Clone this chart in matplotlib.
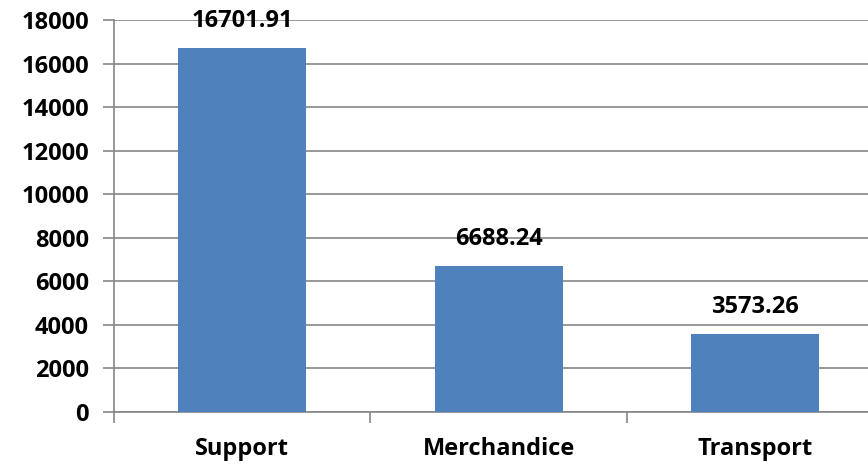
import numpy as np
import matplotlib.pyplot as plt

categories = ['Support', 'Merchandice', 'Transport']
values = [16701.91, 6688.24, 3573.26]
yticks = list(range(0, 18001, 2000))

plt.rcParams['font.family'] = ['Open Sans', 'DejaVu Sans']

fig = plt.figure(figsize=(8.68, 4.66), dpi=100)
ax = fig.add_axes([114 / 868, 54 / 466, 754 / 868, 392 / 466])

x = np.arange(len(categories))
bars = ax.bar(x, values, width=0.5, color='#4F81BD', zorder=3)

for xi, v in zip(x, values):
    ax.annotate(f'{v:.2f}', (xi, v), xytext=(0, 11), textcoords='offset points',
                ha='center', va='bottom', fontsize=17, fontweight='bold',
                color='black')

ax.set_ylim(0, 18000)
ax.set_yticks(yticks)
ax.set_yticklabels([str(t) for t in yticks], fontsize=17, fontweight='bold')
ax.yaxis.grid(True, color='#868686', linewidth=1.2, zorder=0)
ax.tick_params(axis='y', length=8, width=1.2, color='#868686', pad=10)

ax.set_xticks([-0.5, 0.5, 1.5, 2.5])
ax.set_xticklabels([])
ax.set_xticks(x, minor=True)
ax.set_xticklabels(categories, minor=True, fontsize=17, fontweight='bold')
ax.tick_params(axis='x', which='major', length=8, width=1.2, color='#868686')
ax.tick_params(axis='x', which='minor', length=0, pad=18)
ax.set_xlim(-0.5, 2.44)

for s in ['top', 'right']:
    ax.spines[s].set_visible(False)
for s in ['left', 'bottom']:
    ax.spines[s].set_color('#868686')
    ax.spines[s].set_linewidth(1.2)

fig.savefig('out.png', dpi=100)
